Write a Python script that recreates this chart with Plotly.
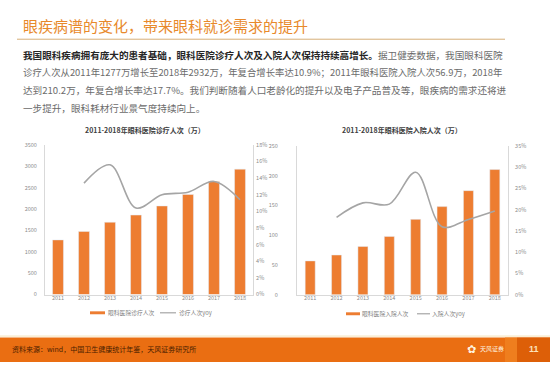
import plotly.graph_objects as go

W, H = 550, 366
FONT = "Noto Sans CJK SC, Noto Sans, sans-serif"

# ---------------- data ----------------
years = ["2011", "2012", "2013", "2014", "2015", "2016", "2017", "2018"]
visits = [1277, 1475, 1690, 1858, 2071, 2339, 2644, 2932]          # 眼科医院诊疗人次（万）
visits_yoy = [None, 13.4, 15.6, 10.4, 12.0, 12.3, 13.6, 11.4]       # 诊疗人次yoy (%)
admissions = [56.9, 66.8, 81.0, 98.0, 126.6, 148.0, 174.8, 210.2]   # 眼科医院入院人次（万）
admissions_yoy = [None, 18.2, 21.6, 21.3, 28.8, 16.0, 17.7, 19.7]   # 入院人次yoy (%)

title_text = "眼疾病谱的变化，带来眼科就诊需求的提升"
para_lines = [
    "<b>我国眼科疾病拥有庞大的患者基础，眼科医院诊疗人次及入院人次保持持续高增长。</b>"
    "<span style='color:#6b6b6b'>据卫健委数据，我国眼科医院</span>",
    "诊疗人次从2011年1277万增长至2018年2932万，年复合增长率达10.9%；2011年眼科医院入院人次56.9万，2018年",
    "达到210.2万，年复合增长率达17.7%。我们判断随着人口老龄化的提升以及电子产品普及等，眼疾病的需求还将进",
    "一步提升，眼科耗材行业景气度持续向上。",
]
chart1_title = "2011-2018年眼科医院诊疗人次（万）"
chart2_title = "2011-2018年眼科医院入院人次（万）"
legend1 = ["眼科医院诊疗人次", "诊疗人次yoy"]
legend2 = ["眼科医院入院人次", "入院人次yoy"]
source_text = "资料来源：wind，中国卫生健康统计年鉴，天风证券研究所"
page_no = "11"

ORANGE = "#ED7D31"
GREY_LINE = "#A5A5A5"
AX = "#D9D9D9"
TICK = "#8C8C8C"


def px(x):
    return x / W


def py(y):
    return 1 - y / H


fig = go.Figure()

fig.add_trace(go.Bar(x=years, y=visits, marker_color=ORANGE, width=0.42,
                     xaxis="x", yaxis="y", name=legend1[0], showlegend=False))
fig.add_trace(go.Scatter(x=years, y=visits_yoy, mode="lines",
                         line=dict(color=GREY_LINE, width=1.6, shape="spline", smoothing=1.0),
                         xaxis="x", yaxis="y2", name=legend1[1], showlegend=False))
fig.add_trace(go.Bar(x=years, y=admissions, marker_color=ORANGE, width=0.38,
                     xaxis="x2", yaxis="y3", name=legend2[0], showlegend=False))
fig.add_trace(go.Scatter(x=years, y=admissions_yoy, mode="lines",
                         line=dict(color=GREY_LINE, width=1.6, shape="spline", smoothing=1.0),
                         xaxis="x2", yaxis="y4", name=legend2[1], showlegend=False))

tickfont = dict(family=FONT, size=5.5, color=TICK)
common_x = dict(type="category", showline=True, linecolor=AX, linewidth=1, showgrid=False,
                tickfont=tickfont, ticks="", zeroline=False, ticklabelstandoff=-2)
common_y = dict(showline=True, linecolor=AX, linewidth=1, showgrid=False, zeroline=False,
                tickfont=tickfont, ticks="outside", tickcolor="rgba(0,0,0,0)")

fig.update_layout(
    width=W, height=H,
    margin=dict(l=0, r=0, t=0, b=0),
    paper_bgcolor="white", plot_bgcolor="white",
    showlegend=False,
    font=dict(family=FONT),
    xaxis=dict(domain=[px(45), px(253)], anchor="y", **common_x),
    yaxis=dict(domain=[py(297), py(144)], range=[0, 3500], dtick=500, anchor="x",
               ticklen=6, **common_y),
    yaxis2=dict(domain=[py(297), py(144)], range=[0, 18], dtick=2, ticksuffix="%",
                overlaying="y", side="right", anchor="x", ticklen=1, **common_y),
    xaxis2=dict(domain=[px(297), px(508)], anchor="y3", **common_x),
    yaxis3=dict(domain=[py(297.3), py(145)], range=[0, 250], dtick=50, anchor="x2",
                ticklen=17, **common_y),
    yaxis4=dict(domain=[py(297.3), py(145)], range=[0, 35], dtick=5, ticksuffix="%",
                overlaying="y3", side="right", anchor="x2", ticklen=5, **common_y),
)

shapes = []
ann = []

# title + underline
ann.append(dict(text=title_text, x=px(21), y=py(22), xref="paper", yref="paper",
                xanchor="left", yanchor="middle", showarrow=False,
                font=dict(family=FONT, size=15, color="#E8892B")))
shapes.append(dict(type="line", xref="paper", yref="paper", x0=px(17), x1=px(505),
                   y0=py(36), y1=py(36), line=dict(color="#D6AE78", width=1)))

# paragraph
for i, t in enumerate(para_lines):
    ann.append(dict(text=t, x=px(21), y=py(52 + 18 * i), xref="paper", yref="paper",
                    xanchor="left", yanchor="middle", showarrow=False,
                    font=dict(family=FONT, size=9.6 if i != 1 else 9.4,
                              color="#6b6b6b" if i else "#262626")))

# chart titles
ann.append(dict(text="<b>" + chart1_title + "</b>", x=px(145), y=py(128.5), xref="paper", yref="paper",
                xanchor="center", yanchor="middle", showarrow=False,
                font=dict(family=FONT, size=7, color="#404040")))
ann.append(dict(text="<b>" + chart2_title + "</b>", x=px(402), y=py(128.5), xref="paper", yref="paper",
                xanchor="center", yanchor="middle", showarrow=False,
                font=dict(family=FONT, size=7, color="#404040")))

# legends (manual)
def legend(xbar0, xbar1, xt1, xl0, xl1, xt2, yc, labels):
    shapes.append(dict(type="rect", xref="paper", yref="paper", x0=px(xbar0), x1=px(xbar1),
                       y0=py(yc + 1.5), y1=py(yc - 1.5), fillcolor=ORANGE, line=dict(width=0)))
    shapes.append(dict(type="line", xref="paper", yref="paper", x0=px(xl0), x1=px(xl1),
                       y0=py(yc), y1=py(yc), line=dict(color=GREY_LINE, width=1.2)))
    for x, t in ((xt1, labels[0]), (xt2, labels[1])):
        ann.append(dict(text=t, x=px(x), y=py(yc), xref="paper", yref="paper",
                        xanchor="left", yanchor="middle", showarrow=False,
                        font=dict(family=FONT, size=5.8, color="#7f7f7f")))

legend(90, 105, 105.5, 160, 176, 176.5, 315.7, legend1)
legend(346, 360, 359.5, 417, 430, 429.5, 316.7, legend2)

# footer
shapes.append(dict(type="line", xref="paper", yref="paper", x0=0, x1=1, y0=py(339.5), y1=py(339.5),
                   line=dict(color="#F6E3B8", width=1)))
shapes.append(dict(type="rect", xref="paper", yref="paper", x0=0, x1=1, y0=0, y1=py(341),
                   fillcolor="#EA6E12", line=dict(width=0)))
shapes.append(dict(type="rect", xref="paper", yref="paper", x0=px(505), x1=px(517), y0=0, y1=py(341),
                   fillcolor="#EF7E1E", line=dict(width=0)))
shapes.append(dict(type="rect", xref="paper", yref="paper", x0=px(517), x1=1, y0=0, y1=py(341),
                   fillcolor="#DD5F08", line=dict(width=0)))
ann.append(dict(text=source_text, x=px(10), y=py(353), xref="paper", yref="paper",
                xanchor="left", yanchor="middle", showarrow=False,
                font=dict(family=FONT, size=7, color="#4A1E00")))
ann.append(dict(text="✿", x=px(471), y=py(353), xref="paper", yref="paper",
                xanchor="center", yanchor="middle", showarrow=False,
                font=dict(family="DejaVu Sans", size=11, color="#FFF4E0")))
ann.append(dict(text="天风证券", x=px(478), y=py(352), xref="paper", yref="paper",
                xanchor="left", yanchor="middle", showarrow=False,
                font=dict(family=FONT, size=6, color="#FFF4E0")))
ann.append(dict(text="<b>" + page_no + "</b>", x=px(534), y=py(352.5), xref="paper", yref="paper",
                xanchor="center", yanchor="middle", showarrow=False,
                font=dict(family="Liberation Sans, sans-serif", size=9, color="#FCE3BC")))

fig.update_layout(shapes=shapes, annotations=ann)
fig.write_html("out.html", config={"displayModeBar": False},
               post_script="document.body.style.margin='0px';")
